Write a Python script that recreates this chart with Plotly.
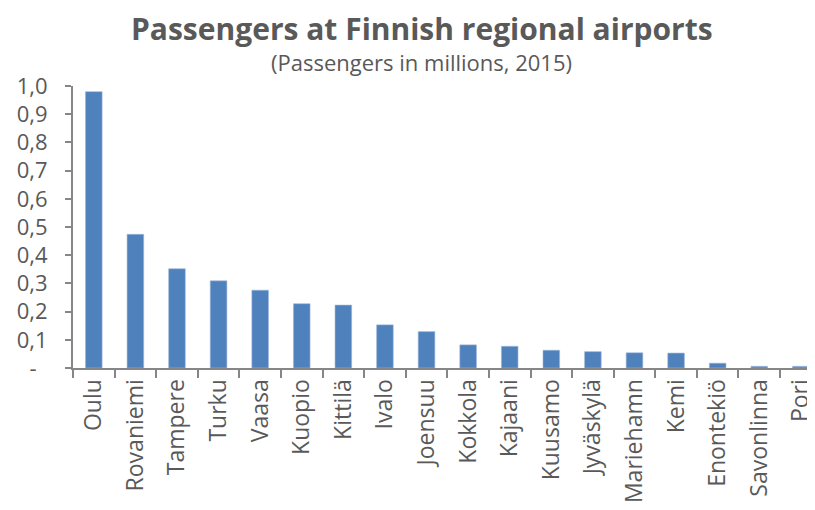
import plotly.graph_objects as go

airports = ["Oulu", "Rovaniemi", "Tampere", "Turku", "Vaasa", "Kuopio", "Kittilä",
            "Ivalo", "Joensuu", "Kokkola", "Kajaani", "Kuusamo", "Jyväskylä",
            "Mariehamn", "Kemi", "Enontekiö", "Savonlinna", "Pori"]
passengers = [0.980, 0.474, 0.352, 0.309, 0.276, 0.228, 0.223,
              0.153, 0.129, 0.082, 0.077, 0.063, 0.058,
              0.054, 0.053, 0.017, 0.006, 0.006]
y_tick_vals = [0, 0.1, 0.2, 0.3, 0.4, 0.5, 0.6, 0.7, 0.8, 0.9, 1.0]
y_tick_text = ["-\u2002", "0,1", "0,2", "0,3", "0,4", "0,5", "0,6", "0,7", "0,8", "0,9", "1,0"]

title_text = "Passengers at Finnish regional airports"
subtitle_text = "(Passengers in millions, 2015)"

TXT = "#595959"
AX = "#868686"
FONT = "Open Sans"

fig = go.Figure(go.Bar(
    x=airports, y=passengers,
    marker=dict(color="#4F81BD", line=dict(color="#9DB9DC", width=0.6)),
))

# page body has an 8px margin, so the figure is 8px smaller than the window
fig.update_layout(
    width=807, height=502,
    paper_bgcolor="white", plot_bgcolor="white",
    margin=dict(l=65, r=0, t=78, b=142, autoexpand=False),
    bargap=0.6,
    showlegend=False,
    font=dict(family=FONT, color=TXT),
    annotations=[
        dict(text="<b>" + title_text + "</b>", xref="paper", yref="paper",
             x=0.470, y=1.205, xanchor="center", yanchor="middle", showarrow=False,
             font=dict(family=FONT, size=30, color=TXT)),
        dict(text=subtitle_text, xref="paper", yref="paper",
             x=0.470, y=1.085, xanchor="center", yanchor="middle", showarrow=False,
             font=dict(family=FONT, size=22, color=TXT)),
    ],
)

fig.update_xaxes(
    type="category", range=[-0.5, 17.34], automargin=False,
    showline=True, linecolor=AX, linewidth=2,
    ticks="outside", tickson="boundaries", ticklen=8, tickwidth=2, tickcolor=AX,
    tickangle=-90, tickfont=dict(family=FONT, size=23, color=TXT),
    showgrid=False, zeroline=False,
)
fig.update_yaxes(
    range=[0, 1.0], automargin=False,
    tickvals=y_tick_vals, ticktext=y_tick_text,
    showline=True, linecolor=AX, linewidth=2,
    ticks="outside", ticklen=6, tickwidth=2, tickcolor=AX,
    ticklabelstandoff=13,
    tickfont=dict(family=FONT, size=22, color=TXT),
    showgrid=False, zeroline=False,
)

fig.write_html("out.html")
